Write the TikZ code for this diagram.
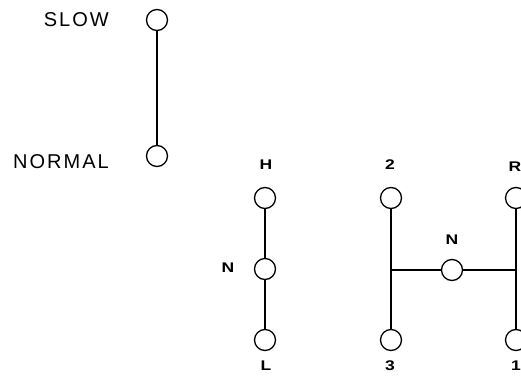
\documentclass[tikz,border=0pt]{standalone}
\usepackage{fontspec}
\setmainfont{Liberation Sans}
\newfontfamily\spacedfont[LetterSpace=10]{Liberation Sans}
\newfontfamily\labelfont[FakeStretch=1.25]{Liberation Sans}
\begin{document}
\begin{tikzpicture}[x=1pt,y=-1pt,
  gearpos/.style={circle,draw,line width=1.3pt,minimum size=21pt,inner sep=0pt},
  bigtxt/.style={font=\spacedfont\fontsize{20}{22}\selectfont,inner sep=0pt,anchor=east},
  smalltxt/.style={font=\labelfont\bfseries\fontsize{14}{16}\selectfont,inner sep=0pt},
  link/.style={line width=1.2pt}]
\useasboundingbox (0,0) rectangle (521,382);
% range selector
\node[gearpos] (slow) at (157,20) {};
\node[gearpos] (normal) at (157,156) {};
\node[bigtxt] (tslow) at (109,20) {SLOW};
\node[bigtxt] (tnormal) at (109,162) {NORMAL};
\draw[link] (slow) -- (normal);
% H-N-L
\node[gearpos] (h) at (265,198) {};
\node[gearpos] (nl) at (265,269) {};
\node[gearpos] (l) at (265,340) {};
\node[smalltxt] (th) at (266,165) {H};
\node[smalltxt] (tnl) at (228,268) {N};
\node[smalltxt] (tl) at (266,366) {L};
\draw[link] (h) -- (nl) -- (l);
% H gate
\node[gearpos] (g2) at (391,198) {};
\node[gearpos] (g3) at (391,340) {};
\node[gearpos] (nm) at (452,270) {};
\node[gearpos] (gr) at (516,198) {};
\node[gearpos] (g1) at (516,340) {};
\coordinate (j1) at (391,270);
\coordinate (j2) at (516,270);
\node[smalltxt] (t2) at (390,165) {2};
\node[smalltxt] (t3) at (390,366) {3};
\node[smalltxt] (tnm) at (452,240) {N};
\node[smalltxt] (tr) at (515,167) {R};
\node[smalltxt] (t1) at (516,366) {1};
\draw[link] (g2) -- (g3);
\draw[link] (gr) -- (g1);
\draw[link] (j1) -- (nm) -- (j2);
\end{tikzpicture}
\end{document}
